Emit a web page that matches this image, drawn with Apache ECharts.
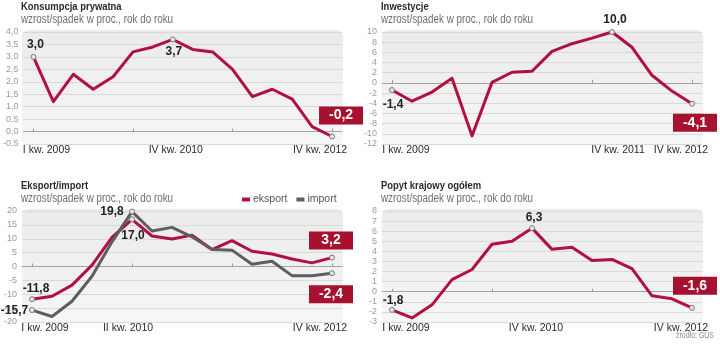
<!DOCTYPE html>
<html>
<head>
<meta charset="utf-8">
<script src="https://cdn.jsdelivr.net/npm/echarts@6/dist/echarts.min.js"></script>
<style>
  html, body { margin: 0; padding: 0; background: #ffffff; }
  #chart { width: 720px; height: 348px; }
</style>
</head>
<body>
<div id="chart"></div>
<script>
// Quarterly year-on-year change, Poland 2009–2012 (source: GUS)
const quarters = [
  'I kw. 2009', 'II kw. 2009', 'III kw. 2009', 'IV kw. 2009',
  'I kw. 2010', 'II kw. 2010', 'III kw. 2010', 'IV kw. 2010',
  'I kw. 2011', 'II kw. 2011', 'III kw. 2011', 'IV kw. 2011',
  'I kw. 2012', 'II kw. 2012', 'III kw. 2012', 'IV kw. 2012'
];

const konsumpcja = [3.0, 1.2, 2.3, 1.7, 2.2, 3.2, 3.4, 3.7, 3.3, 3.2, 2.5, 1.4, 1.7, 1.3, 0.2, -0.2];
const inwestycje = [-1.4, -3.6, -1.8, 0.9, -10.4, 0.1, 2.1, 2.3, 6.2, 7.7, 8.8, 10.0, 7.0, 1.5, -1.6, -4.1];
const eksport = [-11.8, -10.7, -6.7, 0.5, 10.5, 17.0, 11.0, 9.9, 11.3, 6.1, 9.3, 5.5, 4.5, 2.7, 1.3, 3.2];
const importData = [-15.7, -18.0, -12.5, -3.5, 8.9, 19.8, 12.8, 14.1, 10.7, 6.1, 5.9, 0.8, 1.9, -3.3, -3.3, -2.4];
const popyt = [-1.8, -2.6, -1.3, 1.2, 2.2, 4.7, 5.0, 6.3, 4.2, 4.4, 3.1, 3.2, 2.3, -0.4, -0.7, -1.6];

const panelTitles = ['Konsumpcja prywatna', 'Inwestycje', 'Eksport/import', 'Popyt krajowy ogółem'];
const subtitle = 'wzrost/spadek w proc., rok do roku';
const seriesNames = ['eksport', 'import'];
const sourceNote = 'źródło: GUS';

// Shown x-axis labels per panel: [category index, horizontal shift]
const xLabelSets = [
  [[0, 13], [7, 3], [15, -12]],
  [[0, 14], [11, 6], [15, -11]],
  [[0, 13], [5, -4], [15, -12]],
  [[0, 14], [7, 4], [15, -11]]
];

const FONT = '"Liberation Sans", Arial, sans-serif';
const RED = '#b3113d';
const GREY = '#5e5e5e';
const BOX = '#a5112f';
const NARROW = 0.82; // horizontal squeeze for heading texts

const grids = [
  { left: 22, top: 32, width: 320, height: 112 },
  { left: 382, top: 32, width: 320, height: 112 },
  { left: 22, top: 211, width: 320, height: 111 },
  { left: 382, top: 211, width: 320, height: 111 }
];

const yScales = [
  { min: -0.5, max: 4, interval: 0.5, dec: 1 },
  { min: -12, max: 10, interval: 2, dec: 0 },
  { min: -20, max: 20, interval: 5, dec: 0 },
  { min: -3, max: 8, interval: 1, dec: 0 }
];

const fmt = (v, d) => v.toFixed(d).replace('.', ',');

// callouts: [index, kind, offset]
function lineData(values, callouts) {
  return values.map((v, i) => {
    const c = callouts.find(x => x[0] === i);
    if (!c) return v;
    const base = {
      show: true, position: 'inside', offset: c[2],
      formatter: fmt(v, 1), fontFamily: FONT, fontWeight: 'bold'
    };
    const label = c[1] === 'box'
      ? Object.assign(base, { color: '#fff', fontSize: 14, backgroundColor: BOX,
          width: 24, align: 'center', padding: [2, 10, 2, 10], lineHeight: 14 })
      : Object.assign(base, { color: '#222', fontSize: 12 });
    return {
      value: v, symbolSize: 5, label,
      itemStyle: { color: '#e6e6e6', borderColor: '#7a7a7a', borderWidth: 1 }
    };
  });
}

function lineSeries(name, gi, values, color, callouts) {
  return {
    name, type: 'line', xAxisIndex: gi * 2, yAxisIndex: gi,
    data: lineData(values, callouts),
    symbol: 'circle', symbolSize: 0,
    itemStyle: { color },
    lineStyle: { color, width: 3, join: 'round', cap: 'round' },
    emphasis: { disabled: true },
    z: 3
  };
}

const xAxes = [];
const yAxes = [];
grids.forEach((g, gi) => {
  const shown = xLabelSets[gi];
  const rich = {};
  shown.forEach(s => {
    rich['p' + s[0]] = {
      fontFamily: FONT, fontSize: 10.5, color: '#2a2a2a',
      padding: s[1] >= 0 ? [0, 0, 0, 2 * s[1]] : [0, -2 * s[1], 0, 0]
    };
  });
  xAxes.push({
    gridIndex: gi, type: 'category', data: quarters, position: 'bottom',
    axisLine: { show: false, onZero: false }, axisTick: { show: false },
    axisLabel: {
      interval: (idx) => shown.some(s => s[0] === idx),
      margin: 1,
      formatter: (val, idx) => '{p' + idx + '|' + val + '}',
      rich
    }
  });
  // zero line with a tick at every quarter
  xAxes.push({
    gridIndex: gi, type: 'category', data: quarters,
    axisLine: { show: true, onZero: true, lineStyle: { color: '#a3a3a3', width: 1 } },
    axisTick: { show: true, alignWithLabel: true, length: 3, lineStyle: { color: '#9a9a9a' } },
    axisLabel: { show: false }, splitLine: { show: false }
  });

  const ys = yScales[gi];
  yAxes.push({
    gridIndex: gi, type: 'value', min: ys.min, max: ys.max, interval: ys.interval,
    axisLine: { show: false }, axisTick: { show: false },
    axisLabel: {
      margin: 5, color: '#9a9a9a', fontSize: 9, fontFamily: FONT,
      formatter: (v) => fmt(v, ys.dec)
    },
    splitLine: { show: true, lineStyle: { color: '#d9d9d9', width: 1 } }
  });
});

// panel backgrounds
const backgrounds = grids.map(g => ({
  type: 'rect', z: -10,
  shape: { x: g.left, y: g.top - 2, width: g.width + 1, height: g.height + 3, r: 6 },
  style: {
    fill: new echarts.graphic.LinearGradient(0, 0, 0, 1, [
      { offset: 0, color: '#ebebeb' }, { offset: 1, color: '#f6f6f6' }
    ])
  },
  silent: true
}));

// panel headings, set in a condensed width
const headings = [];
grids.forEach((g, gi) => {
  headings.push({
    type: 'text', x: g.left - 1, y: g.top - 31, scaleX: NARROW, silent: true,
    style: { text: panelTitles[gi], fontFamily: FONT, fontSize: 11.5, fontWeight: 'bold',
      fill: '#2b2b2b', verticalAlign: 'top' }
  });
  headings.push({
    type: 'text', x: g.left - 1, y: g.top - 18.5, scaleX: NARROW, silent: true,
    style: { text: subtitle, fontFamily: FONT, fontSize: 12, fill: '#6e6e6e', verticalAlign: 'top' }
  });
});
headings.push({
  type: 'text', x: 714, y: 331, scaleX: NARROW, silent: true,
  style: { text: sourceNote, fontFamily: FONT, fontSize: 8.5, fill: '#8a8a8a',
    align: 'right', verticalAlign: 'top' }
});

const option = {
  animation: false,
  backgroundColor: '#ffffff',
  graphic: { elements: backgrounds.concat(headings) },
  legend: {
    data: seriesNames, left: 242, top: 194, padding: 0,
    icon: 'rect', itemWidth: 8, itemHeight: 4, itemGap: 9,
    textStyle: { fontFamily: FONT, fontSize: 10.5, color: '#555', padding: [0, 0, 0, -2] },
    selectedMode: false
  },
  grid: grids.map(g => Object.assign({ containLabel: false }, g)),
  xAxis: xAxes,
  yAxis: yAxes,
  series: [
    lineSeries('konsumpcja', 0, konsumpcja, RED,
      [[0, 'plain', [2, -12]], [7, 'plain', [1, 12]], [15, 'box', [9, -21]]]),
    lineSeries('inwestycje', 1, inwestycje, RED,
      [[0, 'plain', [1, 15]], [11, 'plain', [3, -12]], [15, 'box', [3, 19]]]),
    lineSeries(seriesNames[0], 2, eksport, RED,
      [[0, 'plain', [4, -11]], [5, 'plain', [1, 16]], [15, 'box', [-1, -17]]]),
    lineSeries(seriesNames[1], 2, importData, GREY,
      [[0, 'plain', [-17.5, 1]], [5, 'plain', [-20, 0]], [15, 'box', [-1, 21]]]),
    lineSeries('popyt', 3, popyt, RED,
      [[0, 'plain', [1, -9]], [7, 'plain', [2, -10]], [15, 'box', [3, -22]]])
  ]
};

const chart = echarts.init(document.getElementById('chart'), null, { renderer: 'canvas' });
chart.setOption(option);
</script>
</body>
</html>
